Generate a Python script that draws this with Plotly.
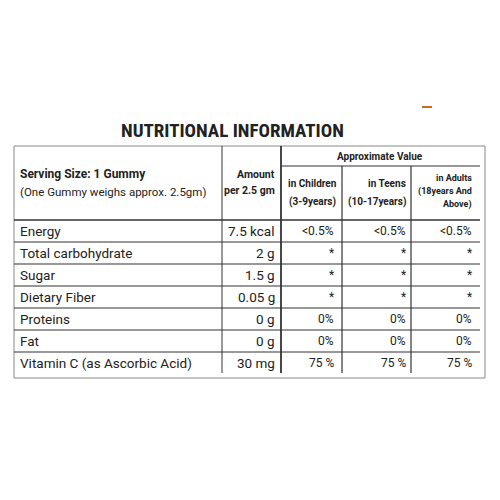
import plotly.graph_objects as go

nutrients = ["Energy", "Total carbohydrate", "Sugar", "Dietary Fiber", "Proteins", "Fat", "Vitamin C (as Ascorbic Acid)"]
amounts = ["7.5 kcal", "2 g", "1.5 g", "0.05 g", "0 g", "0 g", "30 mg"]
children = ["<0.5%", "*", "*", "*", "0%", "0%", "75 %"]
teens = ["<0.5%", "*", "*", "*", "0%", "0%", "75 %"]
adults = ["<0.5%", "*", "*", "*", "0%", "0%", "75 %"]

COND = "Roboto, sans-serif"
fig = go.Figure()
shapes = []
ann = []
def line(x0, y0, x1, y1, w=1, c="#333"):
    shapes.append(dict(type="line", x0=x0, y0=y0, x1=x1, y1=y1, line=dict(color=c, width=w), xref="x", yref="y"))
def txt(x, y, s, size=14, anchor="left", bold=False, font=COND, color="#222"):
    ann.append(dict(x=x, y=y, text=f"<b>{s}</b>" if bold else s, showarrow=False, xanchor=anchor, yanchor="middle",
                    font=dict(size=size, family=font, color=color), xref="x", yref="y"))

shapes.append(dict(type="rect", x0=14, y0=146, x1=485, y1=378, line=dict(color="#888", width=1), xref="x", yref="y"))
line(281, 166, 480, 166, 1.2)
line(14, 220, 480, 220, 1.5)
for i in range(1, 7):
    y = 220 + 22 * i
    line(14, y, 480, y, 1.2)
line(222, 146, 222, 373, 1)
line(281, 146, 281, 373, 1.8)
line(342, 166, 342, 373, 1.2)
line(411, 166, 411, 373, 1.2)
line(422, 107, 432, 107, 2, "#d2691e")

txt(232, 130, "NUTRITIONAL INFORMATION", 19, "center", True, font="Roboto Condensed, Roboto, sans-serif")
txt(18, 174, "Serving Size: 1 Gummy", 12, bold=True)
txt(18, 192, "(One Gummy weighs approx. 2.5gm)", 11.5)
txt(277, 174, "Amount", 10.5, "right", True)
txt(277, 190, "per 2.5 gm", 10.5, "right", True)
txt(380, 156, "Approximate Value", 10, "center", True)
txt(312, 183, "in Children", 10, "center", True)
txt(312, 202, "(3-9years)", 10, "center", True)
txt(408, 183, "in Teens", 10, "right", True)
txt(408, 202, "(10-17years)", 10, "right", True)
txt(474, 178, "in Adults", 9, "right", True)
txt(474, 191, "(18years And", 9, "right", True)
txt(474, 204, "Above)", 9, "right", True)

for i, n in enumerate(nutrients):
    y = 231 + 22 * i
    txt(18, y, n, 13.5)
    txt(277, y, amounts[i], 13.5, "right")
    txt(336, y, children[i], 12, "right")
    txt(408, y, teens[i], 12, "right")
    txt(474, y, adults[i], 12, "right")

# page body has an 8px margin: shift ranges so coordinates match window pixels
fig.update_layout(width=500, height=500, margin=dict(l=0, r=0, t=0, b=0),
                  paper_bgcolor="white", plot_bgcolor="white", shapes=shapes, annotations=ann,
                  xaxis=dict(range=[8, 508], visible=False), yaxis=dict(range=[508, 8], visible=False),
                  showlegend=False)
fig.write_html("out.html")
